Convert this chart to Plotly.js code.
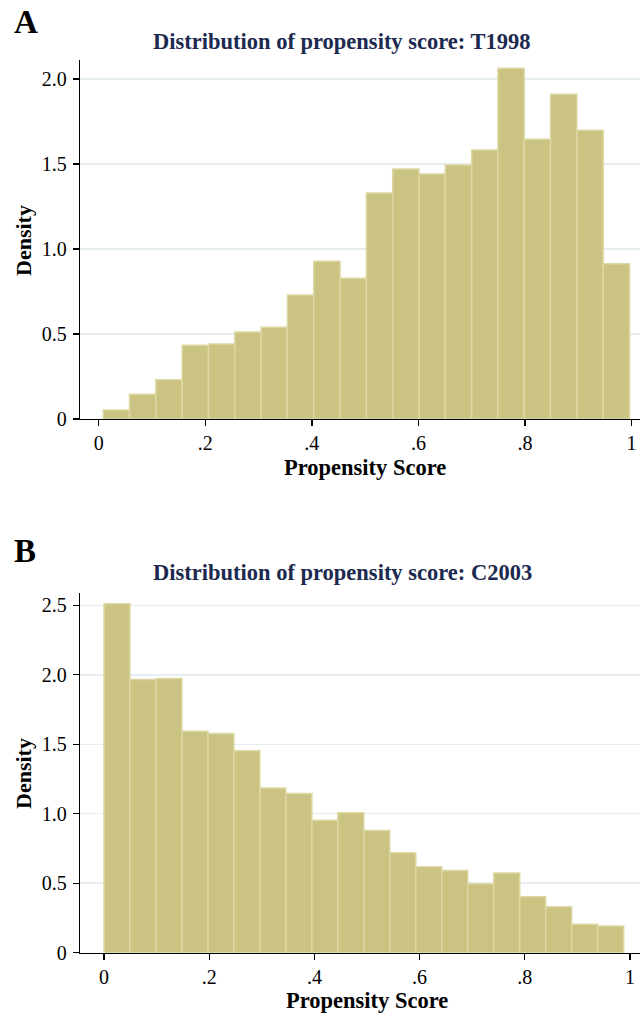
<!DOCTYPE html>
<html>
<head>
<meta charset="utf-8">
<script src="https://cdn.plot.ly/plotly-3.0.1.min.js"></script>
<style>html,body{margin:0;padding:0;background:#fff;}#chart{width:640px;height:1015px;}</style>
</head>
<body>
<div id="chart"></div>
<script>
// Panel A: T1998 (20 equal-width bins)
const binStartT1998 = 0.0083;
const binWidthT1998 = 0.0494;
const densityT1998 = [0.053, 0.146, 0.231, 0.434, 0.441, 0.512, 0.540, 0.729, 0.928, 0.828,
                      1.330, 1.470, 1.442, 1.494, 1.582, 2.063, 1.645, 1.911, 1.699, 0.914];
// Panel B: C2003 (20 equal-width bins)
const binStartC2003 = 0.0;
const binWidthC2003 = 0.0494;
const densityC2003 = [2.512, 1.966, 1.973, 1.594, 1.577, 1.453, 1.186, 1.146, 0.954, 1.007,
                      0.880, 0.719, 0.618, 0.592, 0.496, 0.573, 0.403, 0.331, 0.204, 0.192];

const xTickVals = [0, 0.2, 0.4, 0.6, 0.8, 1];
const xTickText = ["0", ".2", ".4", ".6", ".8", "1"];
const yTickValsA = [0, 0.5, 1.0, 1.5, 2.0];
const yTickTextA = ["0", "0.5", "1.0", "1.5", "2.0"];
const yTickValsB = [0, 0.5, 1.0, 1.5, 2.0, 2.5];
const yTickTextB = ["0", "0.5", "1.0", "1.5", "2.0", "2.5"];

const titleA = "Distribution of propensity score: T1998";
const titleB = "Distribution of propensity score: C2003";
const xTitle = "Propensity Score";
const yTitle = "Density";

function edges(start, width, n) {
  const out = [];
  for (let i = 0; i < n; i++) out.push(start + i * width);
  return out;
}

const barColor = "#cbc382";
const barLine = "#ddd8a4";
const serif = "Liberation Serif, Times New Roman, serif";

const traces = [
  {
    type: "bar",
    x: edges(binStartT1998, binWidthT1998, densityT1998.length),
    y: densityT1998,
    width: binWidthT1998,
    offset: 0,
    marker: {color: barColor, line: {color: barLine, width: 1.5}},
    xaxis: "x", yaxis: "y", hoverinfo: "skip"
  },
  {
    type: "bar",
    x: edges(binStartC2003, binWidthC2003, densityC2003.length),
    y: densityC2003,
    width: binWidthC2003,
    offset: 0,
    marker: {color: barColor, line: {color: barLine, width: 1.5}},
    xaxis: "x2", yaxis: "y2", hoverinfo: "skip"
  }
];

const axisCommon = {
  showline: true, linecolor: "#000", linewidth: 1.3,
  ticks: "outside", ticklen: 6, tickwidth: 1.3, tickcolor: "#000",
  tickfont: {family: serif, size: 20, color: "#000"},
  zeroline: false, fixedrange: true
};

const layout = {
  width: 640, height: 1015,
  margin: {l: 0, r: 0, t: 0, b: 0},
  paper_bgcolor: "#fff", plot_bgcolor: "#fff",
  showlegend: false, bargap: 0,
  xaxis: Object.assign({}, axisCommon, {
    domain: [0.125, 1], range: [-0.0353, 1.016], anchor: "y",
    tickvals: xTickVals, ticktext: xTickText, showgrid: false
  }),
  yaxis: Object.assign({}, axisCommon, {
    domain: [0.5872, 0.9409], range: [0, 2.112], anchor: "x",
    tickvals: yTickValsA, ticktext: yTickTextA,
    showgrid: true, gridcolor: "#e6eef1", gridwidth: 1.5, ticklabelstandoff: 2
  }),
  xaxis2: Object.assign({}, axisCommon, {
    domain: [0.125, 1], range: [-0.0456, 1.019], anchor: "y2",
    tickvals: xTickVals, ticktext: xTickText, showgrid: false
  }),
  yaxis2: Object.assign({}, axisCommon, {
    domain: [0.0614, 0.4158], range: [0, 2.589], anchor: "x2",
    tickvals: yTickValsB, ticktext: yTickTextB,
    showgrid: true, gridcolor: "#e6eef1", gridwidth: 1.5, ticklabelstandoff: 2
  }),
  annotations: [
    {text: "<b>A</b>", xref: "paper", yref: "paper", x: 12/640, y: 1 - 22/1015,
     xanchor: "left", yanchor: "middle", showarrow: false,
     font: {family: serif, size: 33, color: "#000"}},
    {text: "<b>B</b>", xref: "paper", yref: "paper", x: 12/640, y: 1 - 551/1015,
     xanchor: "left", yanchor: "middle", showarrow: false,
     font: {family: serif, size: 33, color: "#000"}},
    {text: "<b>" + titleA + "</b>", xref: "paper", yref: "paper", x: 342/640, y: 1 - 42/1015,
     xanchor: "center", yanchor: "middle", showarrow: false,
     font: {family: serif, size: 22.5, color: "#1d2a50"}},
    {text: "<b>" + titleB + "</b>", xref: "paper", yref: "paper", x: 342/640, y: 1 - 572/1015,
     xanchor: "center", yanchor: "middle", showarrow: false,
     font: {family: serif, size: 22.5, color: "#1d2a50"}},
    {text: "<b>" + xTitle + "</b>", xref: "x", yref: "paper", x: 0.5, y: 1 - 467/1015,
     xanchor: "center", yanchor: "middle", showarrow: false,
     font: {family: serif, size: 22.5, color: "#000"}},
    {text: "<b>" + xTitle + "</b>", xref: "x2", yref: "paper", x: 0.5, y: 1 - 1000/1015,
     xanchor: "center", yanchor: "middle", showarrow: false,
     font: {family: serif, size: 22.5, color: "#000"}},
    {text: "<b>" + yTitle + "</b>", xref: "paper", yref: "paper", x: 23/640, y: 1 - 241/1015,
     xanchor: "center", yanchor: "middle", showarrow: false, textangle: -90,
     font: {family: serif, size: 22, color: "#000"}},
    {text: "<b>" + yTitle + "</b>", xref: "paper", yref: "paper", x: 23/640, y: 1 - 774/1015,
     xanchor: "center", yanchor: "middle", showarrow: false, textangle: -90,
     font: {family: serif, size: 22, color: "#000"}}
  ]
};

Plotly.newPlot("chart", traces, layout, {staticPlot: true, displayModeBar: false});
</script>
</body>
</html>
